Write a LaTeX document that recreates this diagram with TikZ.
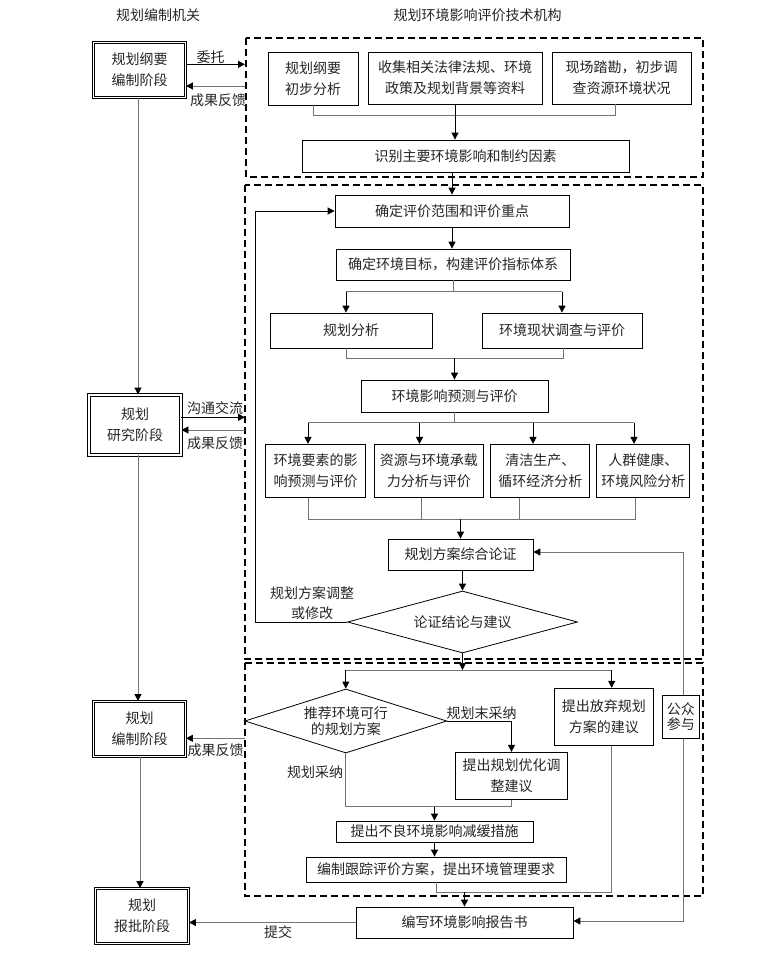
\documentclass[tikz,border=0pt]{standalone}
\usepackage{fontspec}
\setmainfont{Noto Sans CJK SC}
\usetikzlibrary{shapes.geometric,arrows.meta}
\begin{document}
\begin{tikzpicture}[x=1pt,y=-1pt,
 base/.style={font=\fontsize{14}{21}\selectfont, text=black!85},
 box/.style={base, draw=black, line width=0.8pt, fill=white, inner sep=0pt, align=center},
 dbox/.style={box, double, double distance=1.6pt, line width=0.9pt},
 dia/.style={draw=black, shape=diamond, line width=0.8pt, inner sep=0pt, fill=white},
 ln/.style={draw=black!55, line width=0.9pt},
 arr/.style={draw=black, line width=0.9pt, -{Triangle[length=7pt,width=7pt]}},
 garr/.style={draw=black!55, line width=0.9pt, -{Triangle[length=7pt,width=7pt,color=black]}},
 dashbox/.style={draw=black, line width=1.6pt, dash pattern=on 7pt off 4pt},
 lbl/.style={base, inner sep=0pt, align=center}]
\useasboundingbox (0,0) rectangle (777,953);
% headers
\node[lbl] (h1) at (158,15) {规划编制机关};
\node[lbl] (h2) at (477.5,15) {规划环境影响评价技术机构};
% dashed frames
\draw[dashbox] (246,38) rectangle (703,177);
\draw[dashbox] (245,185) rectangle (703,659);
\draw[dashbox] (245,663) rectangle (703,896);
% left column
\node[dbox, minimum width=92pt, minimum height=55pt] (L1) at (139.5,70) {规划纲要\\编制阶段};
\node[dbox, minimum width=92pt, minimum height=60pt] (L2) at (135,425) {规划\\研究阶段};
\node[dbox, minimum width=92pt, minimum height=55pt] (L3) at (139.5,729) {规划\\编制阶段};
\node[dbox, minimum width=93pt, minimum height=55pt] (L4) at (142,916) {规划\\报批阶段};
\coordinate (xl1) at (138,0);
\coordinate (xl2) at (140,0);
\draw[garr] (L1.south -| xl1) -- (L2.north -| xl1);
\draw[garr] (L2.south -| xl1) -- (L3.north -| xl1);
\draw[garr] (L3.south -| xl2) -- (L4.north -| xl2);
% left exchange arrows
\coordinate (k1) at (245,64.3);
\coordinate (k2) at (245,86);
\coordinate (k3) at (245,417.3);
\coordinate (k4) at (245,430);
\coordinate (k5) at (245,738.3);
\draw[arr] (k1 -| L1.east) -- (k1);
\draw[garr] (k2) -- (k2 -| L1.east);
\draw[arr] (k3 -| L2.east) -- (k3);
\draw[garr] (k4) -- (k4 -| L2.east);
\draw[garr] (k5) -- (k5 -| L3.east);
\node[lbl] (t1) at (210.7,56.7) {委托};
\node[lbl] (t2) at (218,100) {成果反馈};
\node[lbl] (t3) at (215,407.7) {沟通交流};
\node[lbl] (t4) at (215,443.3) {成果反馈};
\node[lbl] (t5) at (215.7,750) {成果反馈};
% top frame
\node[box, minimum width=90pt, minimum height=53pt] (A1) at (313,78.5) {规划纲要\\初步分析};
\node[box, minimum width=174pt, minimum height=52pt] (A2) at (455,78) {收集相关法律法规、环境\\政策及规划背景等资料};
\node[box, minimum width=139pt, minimum height=52pt] (A3) at (621.5,78) {现场踏勘，初步调\\查资源环境状况};
\node[box, minimum width=327pt, minimum height=32pt] (A4) at (465.5,156) {识别主要环境影响和制约因素};
\coordinate (m1) at (0,115.7);
\coordinate (a3x) at (615,0);
\draw[ln] (A1.south) -- (A1.south |- m1) -- (a3x |- m1) -- (A3.south -| a3x);
\draw[arr] (A2.south) -- (A2.south |- A4.north);
% middle frame
\node[box, minimum width=234pt, minimum height=32pt] (B1) at (452,211) {确定评价范围和评价重点};
\node[box, minimum width=234pt, minimum height=31pt] (B2) at (453,264.5) {确定环境目标，构建评价指标体系};
\node[box, minimum width=162pt, minimum height=35pt] (B3) at (351,330.5) {规划分析};
\node[box, minimum width=160pt, minimum height=35pt] (B4) at (562,330.5) {环境现状调查与评价};
\node[box, minimum width=187pt, minimum height=32pt] (B5) at (454.5,396) {环境影响预测与评价};
\draw[arr] (B1.north |- A4.south) -- (B1.north);
\draw[arr] (B1.south) -- (B1.south |- B2.north);
\coordinate (s1l) at (346,291.7);
\coordinate (s1r) at (562,291.7);
\draw[ln] (B2.south) -- (B2.south |- s1l);
\draw[ln] (s1l) -- (s1r);
\draw[arr] (s1l) -- (s1l |- B3.north);
\draw[arr] (s1r) -- (s1r |- B4.north);
\coordinate (g1l) at (346.7,358);
\coordinate (g1r) at (563,358);
\draw[ln] (g1l |- B3.south) -- (g1l) -- (g1r) -- (g1r |- B4.south);
\draw[arr] (B5.north |- g1l) -- (B5.north);
% four analysis boxes
\node[box, minimum width=100pt, minimum height=53pt] (C1) at (315.7,470.8) {环境要素的影\\响预测与评价};
\node[box, minimum width=109pt, minimum height=53pt] (C2) at (428.8,470.8) {资源与环境承载\\力分析与评价};
\node[box, minimum width=99pt, minimum height=53pt] (C3) at (540.3,470.8) {清洁生产、\\循环经济分析};
\node[box, minimum width=93pt, minimum height=53pt] (C4) at (643.3,470.8) {人群健康、\\环境风险分析};
\coordinate (s2a) at (308,422.7);
\coordinate (s2b) at (419.5,422.7);
\coordinate (s2c) at (533,422.7);
\coordinate (s2d) at (634,422.7);
\draw[ln] (B5.south) -- (B5.south |- s2a);
\draw[ln] (s2a) -- (s2d);
\draw[arr] (s2a) -- (s2a |- C1.north);
\draw[arr] (s2b) -- (s2b |- C2.north);
\draw[arr] (s2c) -- (s2c |- C3.north);
\draw[arr] (s2d) -- (s2d |- C4.north);
\coordinate (g2a) at (308.3,519);
\coordinate (g2b) at (421.7,519);
\coordinate (g2c) at (519.3,519);
\coordinate (g2d) at (635,519);
\draw[ln] (g2a |- C1.south) -- (g2a) -- (g2d) -- (g2d |- C4.south);
\draw[ln] (g2b |- C2.south) -- (g2b);
\draw[ln] (g2c |- C3.south) -- (g2c);
\node[box, minimum width=145pt, minimum height=31pt] (D1) at (460.5,554.5) {规划方案综合论证};
\draw[arr] (D1.north |- g2a) -- (D1.north);
\node[dia, minimum width=230pt, minimum height=62pt] (D2) at (462.5,622) {};
\node[lbl] (D2t) at (D2.center) {论证结论与建议};
\draw[arr] (D2.north |- D1.south) -- (D2.north);
\coordinate (fb) at (255.7,622);
\draw[arr] (D2.west) -- (fb) -- (fb |- B1.west) -- (B1.west);
\node[lbl, font=\fontsize{14}{20}\selectfont] (fbl) at (312,603) {规划方案调整\\或修改};
% bottom frame
\node[dia, minimum width=202pt, minimum height=64pt] (E1) at (345.8,721) {};
\node[lbl, font=\fontsize{14}{15.5}\selectfont] (E1t) at (E1.center) {推荐环境可行\\的规划方案};
\node[box, minimum width=111.6pt, minimum height=47pt] (E2) at (511.5,775.8) {提出规划优化调\\整建议};
\node[box, minimum width=99pt, minimum height=57pt] (E3) at (603.8,716.8) {提出放弃规划\\方案的建议};
\node[box, minimum width=197pt, minimum height=21pt] (E4) at (434.5,831.5) {提出不良环境影响减缓措施};
\node[box, minimum width=260pt, minimum height=25pt] (E5) at (436,869.5) {编制跟踪评价方案，提出环境管理要求};
\node[box, minimum width=37pt, minimum height=43pt, font=\fontsize{14}{15}\selectfont] (P) at (680.8,716.7) {公众\\参与};
\node[box, minimum width=217pt, minimum height=31pt] (R) at (464.5,922.5) {编写环境影响报告书};
\coordinate (h3) at (0,670);
\coordinate (e3x) at (611.7,0);
\draw[arr] (D2.south) -- (D2.south |- h3);
\draw[ln] (E1.north |- h3) -- (e3x |- h3);
\draw[arr] (E1.north |- h3) -- (E1.north);
\draw[arr] (e3x |- h3) -- (e3x |- E3.north);
\draw[arr] (E1.east) -- (E1.east -| E2.north) -- (E2.north);
\node[lbl] (nl) at (481.7,712.7) {规划末采纳};
\coordinate (h4) at (0,806.7);
\draw[ln] (E1.south) -- (E1.south |- h4) -- (E2.south |- h4) -- (E2.south);
\draw[arr] (E4.north |- h4) -- (E4.north);
\node[lbl] (yl) at (315,771.7) {规划采纳};
\draw[arr] (E4.south) -- (E4.south |- E5.north);
\coordinate (h5) at (0,892.3);
\draw[ln] (E5.south) -- (E5.south |- h5) -- (e3x |- h5) -- (e3x |- E3.south);
\draw[arr] (R.north |- h5) -- (R.north);
% public participation
\coordinate (pu) at (683,552);
\coordinate (pd) at (683,921);
\draw[garr] (P.north -| pu) -- (pu) -- (pu -| D1.east);
\draw[garr] (P.south -| pu) -- (pd) -- (pd -| R.east);
% submit
\draw[garr] (R.west) -- (R.west -| L4.east);
\node[lbl] (sl) at (278,931.7) {提交};
\end{tikzpicture}
\end{document}
